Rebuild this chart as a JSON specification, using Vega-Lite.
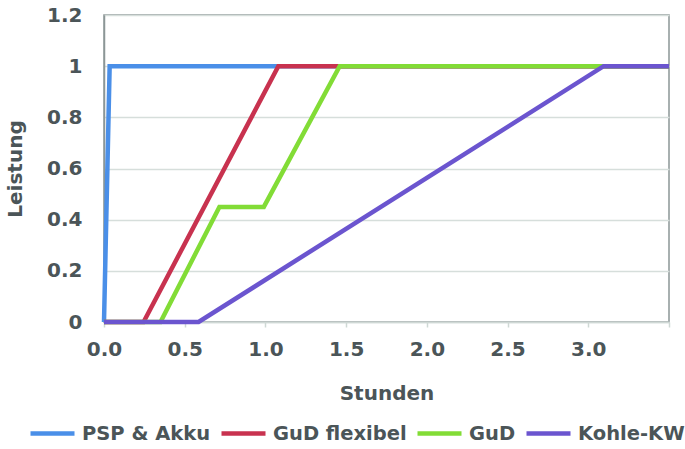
{
  "$schema": "https://vega.github.io/schema/vega-lite/v6.json",
  "width": 565,
  "height": 307,
  "autosize": {"type": "none"},
  "padding": {"left": 104, "top": 15, "right": 16, "bottom": 127},
  "background": "white",
  "config": {
    "font": "DejaVu Sans",
    "view": {"stroke": "#8c9696", "strokeWidth": 1.5},
    "axis": {
      "labelFont": "DejaVu Sans",
      "labelFontWeight": "bold",
      "labelFontSize": 20,
      "labelColor": "#4b5558",
      "titleFont": "DejaVu Sans",
      "titleFontWeight": "bold",
      "titleFontSize": 20,
      "titleColor": "#4b5558"
    },
    "legend": {
      "labelFont": "DejaVu Sans",
      "labelFontWeight": "bold",
      "labelFontSize": 19.5,
      "labelColor": "#4b5558"
    }
  },
  "data": {
    "values": [
      {"s": "PSP & Akku", "o": 1, "x": 0, "y": 0},
      {"s": "PSP & Akku", "o": 2, "x": 0.035, "y": 1},
      {"s": "PSP & Akku", "o": 3, "x": 3.5, "y": 1},
      {"s": "GuD flexibel", "o": 1, "x": 0, "y": 0},
      {"s": "GuD flexibel", "o": 2, "x": 0.245, "y": 0},
      {"s": "GuD flexibel", "o": 3, "x": 1.08, "y": 1},
      {"s": "GuD flexibel", "o": 4, "x": 3.5, "y": 1},
      {"s": "GuD", "o": 1, "x": 0, "y": 0},
      {"s": "GuD", "o": 2, "x": 0.35, "y": 0},
      {"s": "GuD", "o": 3, "x": 0.715, "y": 0.45},
      {"s": "GuD", "o": 4, "x": 0.99, "y": 0.45},
      {"s": "GuD", "o": 5, "x": 1.46, "y": 1},
      {"s": "GuD", "o": 6, "x": 3.5, "y": 1},
      {"s": "Kohle-KW", "o": 1, "x": 0, "y": 0},
      {"s": "Kohle-KW", "o": 2, "x": 0.586, "y": 0},
      {"s": "Kohle-KW", "o": 3, "x": 3.095, "y": 1},
      {"s": "Kohle-KW", "o": 4, "x": 3.5, "y": 1}
    ]
  },
  "mark": {"type": "line", "strokeWidth": 4.5, "clip": false, "strokeJoin": "miter"},
  "encoding": {
    "x": {
      "field": "x", "type": "quantitative",
      "scale": {"domain": [0, 3.5], "nice": false},
      "axis": {
        "title": "Stunden",
        "values": [0, 0.5, 1, 1.5, 2, 2.5, 3, 3.5],
        "labelExpr": "datum.value == 3.5 ? '' : format(datum.value, '.1f')",
        "labelFlush": false,
        "labelOverlap": false,
        "grid": false,
        "domainColor": "#cfd8d5",
        "domainWidth": 1.5,
        "tickColor": "#cfd8d5",
        "tickSize": 5,
        "tickWidth": 1.5,
        "labelPadding": 12,
        "titlePadding": 24
      }
    },
    "y": {
      "field": "y", "type": "quantitative",
      "scale": {"domain": [0, 1.2], "nice": false},
      "axis": {
        "title": "Leistung",
        "values": [0, 0.2, 0.4, 0.6, 0.8, 1, 1.2],
        "format": "~g",
        "labelFlush": false,
        "labelOverlap": false,
        "grid": true,
        "gridColor": "#d6dedb",
        "gridWidth": 1.5,
        "domainColor": "#8c9696",
        "domainWidth": 1.5,
        "ticks": false,
        "labelPadding": 22,
        "titlePadding": 21
      }
    },
    "order": {"field": "o", "type": "quantitative"},
    "color": {
      "field": "s", "type": "nominal",
      "scale": {
        "domain": ["PSP & Akku", "GuD flexibel", "GuD", "Kohle-KW"],
        "range": ["#4a8fe8", "#c8324f", "#82dc36", "#6b55cf"]
      },
      "legend": {
        "title": null,
        "orient": "none",
        "direction": "horizontal",
        "legendX": -76,
        "legendY": 394,
        "symbolType": "stroke",
        "symbolSize": 1936,
        "symbolStrokeWidth": 4.5,
        "labelOffset": 5,
        "columnPadding": 1
      }
    }
  }
}
